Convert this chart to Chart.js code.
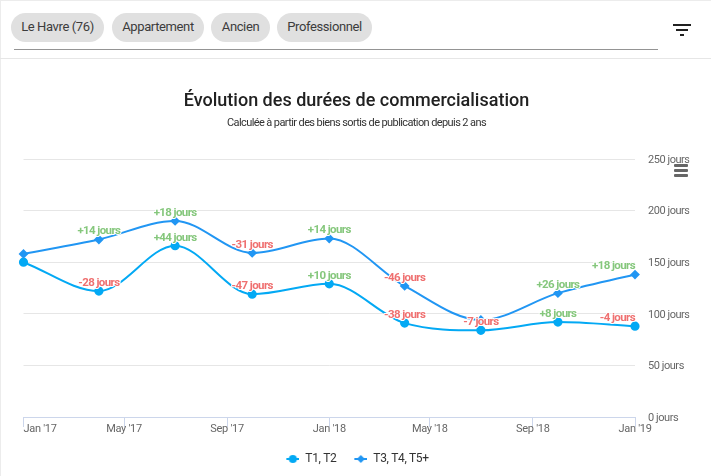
<!DOCTYPE html>
<html lang="fr">
<head>
<meta charset="utf-8">
<script src="https://cdn.jsdelivr.net/npm/chart.js@4"></script>
<style>
html,body{margin:0;padding:0;background:#fff;width:711px;height:476px;overflow:hidden;font-family:Roboto,sans-serif}
#frame{position:absolute;left:0;top:0;width:711px;height:476px;box-sizing:border-box;border-left:1px solid #ececec;border-top:1px solid #ececec}
#sep{position:absolute;left:0;top:58px;width:711px;height:1px;background:#e6e6e6}
#under{position:absolute;left:14px;top:49px;width:644px;height:1px;background:#949494}
.chip{position:absolute;top:13px;height:29px;line-height:28px;border-radius:15px;background:#e0e0e0;color:#3c3c3c;font-size:13px;letter-spacing:-0.38px;text-align:center}
#filter{position:absolute;left:673px;top:24px;width:18px;height:14px}
#filter i{position:absolute;background:#212121;height:2px}
#burger{position:absolute;left:674px;top:164px;width:14px;z-index:3}
#burger i{display:block;height:3px;background:#666;margin-bottom:2px;border-radius:1px}
#wrap{position:absolute;left:0;top:59px;width:711px;height:417px}
</style>
</head>
<body>
<div id="frame"></div>
<div class="chip" style="left:11px;width:93px">Le Havre (76)</div>
<div class="chip" style="left:112px;width:92px">Appartement</div>
<div class="chip" style="left:211px;width:59px">Ancien</div>
<div class="chip" style="left:277px;width:95px">Professionnel</div>
<div id="under"></div>
<div id="sep"></div>
<div id="filter"><i style="left:0;top:0;width:18px"></i><i style="left:3px;top:5px;width:12px"></i><i style="left:7px;top:10px;width:4px"></i></div>
<div id="burger"><i></i><i></i><i></i></div>
<div id="wrap"><canvas id="c" width="711" height="417"></canvas></div>
<script>
const dates = ['2017-01-01','2017-04-01','2017-07-01','2017-10-01','2018-01-01','2018-04-01','2018-07-01','2018-10-01','2019-01-01'];
const t1Values = [150,122,166,119,129,91,84,92,88];
const t3Values = [158,172,190,159,173,127,94,120,138];
const t1Labels = [null,'-28 jours','+44 jours','-47 jours','+10 jours','-38 jours','-7 jours','+8 jours','-4 jours'];
const t3Labels = [null,'+14 jours','+18 jours','-31 jours','+14 jours','-46 jours',null,'+26 jours','+18 jours'];
const tickDates = ['2017-01-01','2017-05-01','2017-09-01','2018-01-01','2018-05-01','2018-09-01','2019-01-01'];
const tickLabels = ["Jan '17","May '17","Sep '17","Jan '18","May '18","Sep '18","Jan '19"];
const yTicks = [0,50,100,150,200,250];
const seriesNames = ['T1, T2','T3, T4, T5+'];
const seriesColors = ['#03a9f4','#2196f3'];

const ms = s => Date.parse(s);
const pts = vals => vals.map((v,i)=>({x:ms(dates[i]),y:v}));

function legendIcon(color, diamond){
  const c=document.createElement('canvas');c.width=16;c.height=10;
  const g=c.getContext('2d');
  g.strokeStyle=color;g.lineWidth=2;g.beginPath();g.moveTo(3,5);g.lineTo(16,5);g.stroke();
  g.fillStyle=color;g.beginPath();
  if(diamond){g.moveTo(9.5,1);g.lineTo(13.5,5);g.lineTo(9.5,9);g.lineTo(5.5,5);g.closePath();}
  else g.arc(9.5,5,4,0,Math.PI*2);
  g.fill();return c;
}
const icons=[legendIcon(seriesColors[0],false),legendIcon(seriesColors[1],true)];

function spaced(ctx,obj,method,sp){
  const orig=obj[method];
  obj[method]=function(...a){ctx.letterSpacing=sp;const r=orig.apply(obj,a);ctx.letterSpacing='0px';return r;};
}

const labelPlugin={
  id:'dayLabels',
  beforeDraw(chart){
    const ctx=chart.ctx;
    if(!chart.$patched){
      chart.$patched=true;
      spaced(ctx,chart.scales.x,'drawLabels','-0.3px');
      spaced(ctx,chart.scales.y,'drawLabels','-0.45px');
      chart.boxes.forEach(b=>{
        if(b.options&&b.options.text&&b.options.text.startsWith('Calcul')) spaced(ctx,b,'draw','-0.6px');
        if(b.legendItems){ spaced(ctx,b,'draw','-0.35px'); b.left+=2.5; b.right+=2.5; }
      });
      const xi=chart.scales.x.getLabelItems();
      if(xi[0]) xi[0].options.textAlign='left';
      chart.scales.y.getLabelItems().forEach(it=>{it.options.translation[1]+=1;});
    }
  },
  afterDatasetsDraw(chart){
    const ctx=chart.ctx, area=chart.chartArea;
    [t1Labels,t3Labels].forEach((labs,d)=>{
      const meta=chart.getDatasetMeta(d);
      labs.forEach((t,i)=>{
        if(!t) return;
        const p=meta.data[i];
        ctx.save();
        ctx.font='bold 11.5px Roboto';
        ctx.letterSpacing='-0.6px';
        ctx.textAlign='center';ctx.textBaseline='middle';
        const w=ctx.measureText(t).width;
        let x=p.x; if(x+w/2>area.right) x=area.right-w/2;
        const y=p.y-8;
        ctx.lineJoin='round';ctx.strokeStyle='#fff';ctx.lineWidth=2;
        ctx.strokeText(t,x,y);
        ctx.fillStyle=t[0]==='+'?'#85c77c':'#ef7070';
        ctx.fillText(t,x,y);
        ctx.restore();
      });
    });
  }
};

new Chart(document.getElementById('c'),{
  type:'line',
  data:{datasets:[
    {label:seriesNames[0],data:pts(t1Values),borderColor:seriesColors[0],backgroundColor:seriesColors[0],borderWidth:2,pointStyle:'circle',pointRadius:3.6,cubicInterpolationMode:'monotone',clip:false,order:2},
    {label:seriesNames[1],data:pts(t3Values),borderColor:seriesColors[1],backgroundColor:seriesColors[1],borderWidth:2,pointStyle:'rectRot',pointRadius:3.5,cubicInterpolationMode:'monotone',clip:false,order:1}
  ]},
  options:{
    responsive:false,animation:false,events:[],
    layout:{autoPadding:false,padding:{top:32,left:23.5,right:21.5,bottom:1}},
    plugins:{
      title:{display:true,text:'Évolution des durées de commercialisation',color:'#212121',font:{family:'Roboto',size:18,weight:'500'},padding:{top:0,bottom:3.8}},
      subtitle:{display:true,text:'Calculée à partir des biens sortis de publication depuis 2 ans',color:'#333333',font:{family:'Roboto',size:11,weight:'400'},padding:{top:0,bottom:29.4}},
      legend:{position:'bottom',labels:{usePointStyle:true,pointStyleWidth:16,color:'#333333',font:{family:'Roboto',size:12},padding:15,boxHeight:12,
        generateLabels:c=>c.data.datasets.map((d,i)=>({text:d.label,pointStyle:icons[i],fontColor:'#333333',datasetIndex:i,lineWidth:0,strokeStyle:'transparent',fillStyle:'transparent'}))}},
      tooltip:{enabled:false}
    },
    scales:{
      x:{type:'linear',min:ms(dates[0]),max:ms(dates[dates.length-1]),
        afterBuildTicks:s=>{s.ticks=tickDates.map(d=>({value:ms(d)}));},
        afterFit:s=>{s.height=21;},
        border:{color:'#ccd6eb',width:1},
        grid:{drawOnChartArea:false,color:'#ccd6eb',tickLength:10},
        ticks:{autoSkip:false,maxRotation:0,color:'#666666',font:{family:'Roboto',size:11},padding:-4,
          callback:v=>tickLabels[tickDates.findIndex(d=>ms(d)===v)]}
      },
      y:{position:'right',min:0,max:250,
        afterBuildTicks:s=>{s.ticks=yTicks.map(v=>({value:v}));},
        afterFit:s=>{s.width=54.5;},
        border:{display:false},
        grid:{color:c=>c.tick&&c.tick.value===0?'#ccd6eb':'#e6e6e6',drawTicks:false,tickLength:0},
        ticks:{color:'#666666',font:{family:'Roboto',size:11},padding:13,callback:v=>v+' jours'}
      }
    }
  },
  plugins:[labelPlugin]
});
</script>
</body>
</html>
